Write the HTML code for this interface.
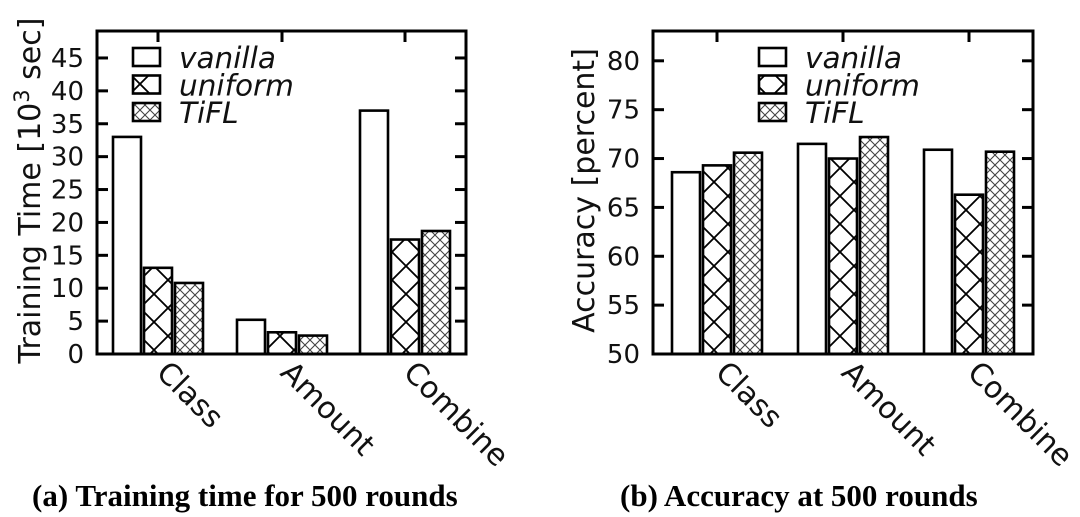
<!DOCTYPE html>
<html><head><meta charset="utf-8"><style>
html,body{margin:0;padding:0;background:#fff;}
svg{display:block;font-family:"DejaVu Sans","Liberation Sans",sans-serif;}
</style></head><body>
<svg id="fig" width="1080" height="517" viewBox="0 0 1080 517" xmlns="http://www.w3.org/2000/svg">
<defs>
<pattern id="hatchU" patternUnits="userSpaceOnUse" width="28" height="28" x="0" y="0">
<path d="M0,0 L28,28 M28,0 L0,28" stroke="#000" stroke-width="1.8" fill="none"/>
</pattern>
<pattern id="hatchT" patternUnits="userSpaceOnUse" width="10" height="10">
<path d="M0,0 L10,10 M10,0 L0,10" stroke="#444" stroke-width="1.1" fill="none"/>
</pattern>
</defs>
<g id="chartA"></g>
<g id="chartB"></g>
<text x="32" y="506" font-family="Liberation Serif, serif" font-weight="bold" font-size="31">(a) Training time for 500 rounds</text>
<text x="620" y="506" font-family="Liberation Serif, serif" font-weight="bold" font-size="31">(b) Accuracy at 500 rounds</text>
</svg>
<script>
const categories = ["Class", "Amount", "Combine"];
const seriesNames = ["vanilla", "uniform", "TiFL"];
const timeVanilla = [33, 5.2, 37];
const timeUniform = [13.1, 3.3, 17.4];
const timeTiFL = [10.8, 2.8, 18.7];
const timeTicks = [0, 5, 10, 15, 20, 25, 30, 35, 40, 45];
const accVanilla = [68.6, 71.5, 70.9];
const accUniform = [69.3, 70.0, 66.3];
const accTiFL = [70.6, 72.2, 70.7];
const accTicks = [50, 55, 60, 65, 70, 75, 80];

const NS = "http://www.w3.org/2000/svg";
const fills = ["#fff", "url(#hatchU)", "url(#hatchT)"];
function mk(tag, attrs, parent) {
  const e = document.createElementNS(NS, tag);
  for (const k in attrs) e.setAttribute(k, attrs[k]);
  parent.appendChild(e);
  return e;
}
function drawChart(g, cfg) {
  const {x0, x1, y0, y1, ymin, ymax, series, ticks, title, titleX, legendX, groupCenters} = cfg;
  const ys = v => y0 - (v - ymin) / (ymax - ymin) * (y0 - y1);
  const barW = 28, step = 31;
  series.forEach((arr, si) => {
    arr.forEach((v, ci) => {
      const cx = groupCenters[ci] + (si - 1) * step;
      const r = mk("rect", {x: cx - barW / 2, y: ys(v), width: barW, height: y0 - ys(v), fill: fills[si], stroke: "#000", "stroke-width": 2.6}, g);
      
      
    });
  });
  const fr = mk("rect", {x: x0, y: y1, width: x1 - x0, height: y0 - y1, fill: "none", stroke: "#000", "stroke-width": 3}, g);
  
  
  ticks.forEach(t => {
    const y = ys(t);
    mk("line", {x1: x0, x2: x0 + 11, y1: y, y2: y, stroke: "#000", "stroke-width": 3}, g);
    mk("line", {x1: x1, x2: x1 - 11, y1: y, y2: y, stroke: "#000", "stroke-width": 3}, g);
    const tx = mk("text", {x: x0 - 13, y: y + 9, "text-anchor": "end", "font-size": 26, fill: "#111"}, g);
    tx.textContent = t;
    
    
  });
  categories.forEach((c, i) => {
    const gx = groupCenters[i];
    mk("line", {x1: gx, x2: gx, y1: y1, y2: y1 + 11, stroke: "#000", "stroke-width": 3}, g);
    const tx = mk("text", {x: 0, y: 0, "font-size": 30, fill: "#111", transform: "translate(" + (gx - 3) + "," + (y0 + 20) + ") rotate(45)"}, g);
    tx.textContent = c;
    
    
  });
  const yt = mk("text", {x: 0, y: 0, "text-anchor": "middle", "font-size": 30, fill: "#111", transform: "translate(" + titleX + "," + ((y0 + y1) / 2 - 2) + ") rotate(-90)"}, g);
  yt.innerHTML = title;
  
  
  seriesNames.forEach((n, i) => {
    const ly = 48 + i * 27.5;
    const b = mk("rect", {x: legendX, y: ly, width: 27, height: 18, fill: fills[i], stroke: "#000", "stroke-width": 2.6}, g);
    
    
    const lt = mk("text", {x: legendX + 46, y: ly + 20, "font-size": 29.5, "font-style": "italic", fill: "#111"}, g);
    lt.textContent = n;
    
    
  });
}
drawChart(document.getElementById("chartA"), {
  x0: 97, x1: 466, y0: 354, y1: 31, ymin: 0, ymax: 49.1,
  series: [timeVanilla, timeUniform, timeTiFL], ticks: timeTicks,
  title: 'Training Time [10<tspan dy="-11" font-size="21">3</tspan><tspan dy="11"> sec]</tspan>',
  titleX: 40, legendX: 133, groupCenters: [158, 282, 405]
});
drawChart(document.getElementById("chartB"), {
  x0: 653, x1: 1033, y0: 354, y1: 31, ymin: 50, ymax: 83.05,
  series: [accVanilla, accUniform, accTiFL], ticks: accTicks,
  title: 'Accuracy [percent]',
  titleX: 594, legendX: 759, groupCenters: [717, 843, 969]
});
</script>
</body></html>
